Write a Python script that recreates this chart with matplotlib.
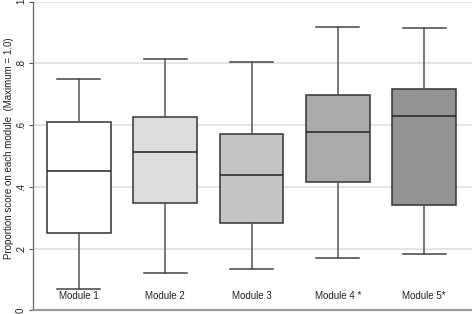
import matplotlib
matplotlib.use("Agg")
import matplotlib.pyplot as plt

plt.rcParams["font.family"] = ["Liberation Sans", "DejaVu Sans"]

modules = ["Module 1", "Module 2", "Module 3", "Module 4 *", "Module 5*"]
whislo = [0.070, 0.121, 0.133, 0.170, 0.181]
q1 = [0.250, 0.347, 0.284, 0.417, 0.342]
med = [0.452, 0.512, 0.440, 0.577, 0.630]
q3 = [0.611, 0.628, 0.570, 0.699, 0.718]
whishi = [0.751, 0.814, 0.805, 0.918, 0.914]
fills = ["#ffffff", "#dddddd", "#c4c4c4", "#aaaaaa", "#939393"]
yticks = [0, 0.2, 0.4, 0.6, 0.8, 1.0]
yticklabels = ["0", ".2", ".4", ".6", ".8", "1"]

fig = plt.figure(figsize=(4.72, 3.14), dpi=100)
ax = fig.add_axes([0.0699, 0.0118, 0.9301, 0.9825])

stats = []
for i in range(len(modules)):
    stats.append(dict(label=modules[i], whislo=whislo[i], q1=q1[i], med=med[i],
                      q3=q3[i], whishi=whishi[i], fliers=[]))

pos = list(range(1, len(modules) + 1))
bp = ax.bxp(stats, positions=pos, widths=0.74, patch_artist=True, showfliers=False,
            boxprops=dict(edgecolor="#333333", linewidth=1.1),
            medianprops=dict(color="#222222", linewidth=1.1),
            whiskerprops=dict(color="#555555", linewidth=1.1),
            capprops=dict(color="#444444", linewidth=1.1),
            capwidths=0.5)
for patch, c in zip(bp["boxes"], fills):
    patch.set_facecolor(c)

ax.set_xlim(0.47, 5.553)
ax.set_ylim(0, 1)
ax.set_yticks(yticks)
ax.set_yticklabels(yticklabels, rotation=90, va="center", fontsize=7, color="#222222")
ax.yaxis.grid(True, color="#e3e3e3", linewidth=1.3)
ax.set_axisbelow(True)
ax.tick_params(axis="y", length=3, width=0.8, color="#555555", pad=2)
ax.set_xticks(pos)
ax.set_xticklabels(modules, fontsize=7, color="#222222")
ax.tick_params(axis="x", length=0, pad=-14)

for s in ["top", "right"]:
    ax.spines[s].set_visible(False)
ax.spines["left"].set_color("#666666")
ax.spines["left"].set_linewidth(0.9)
ax.spines["bottom"].set_color("#999999")
ax.spines["bottom"].set_linewidth(1.5)
ax.axhline(1.0, color="#f0f0f0", linewidth=1.0, zorder=0)

ax.set_ylabel("Proportion score on each module  (Maximum = 1.0)", fontsize=7, color="#222222")
ax.yaxis.set_label_coords(-0.044, 0.525)

fig.savefig("out.png", dpi=100)
